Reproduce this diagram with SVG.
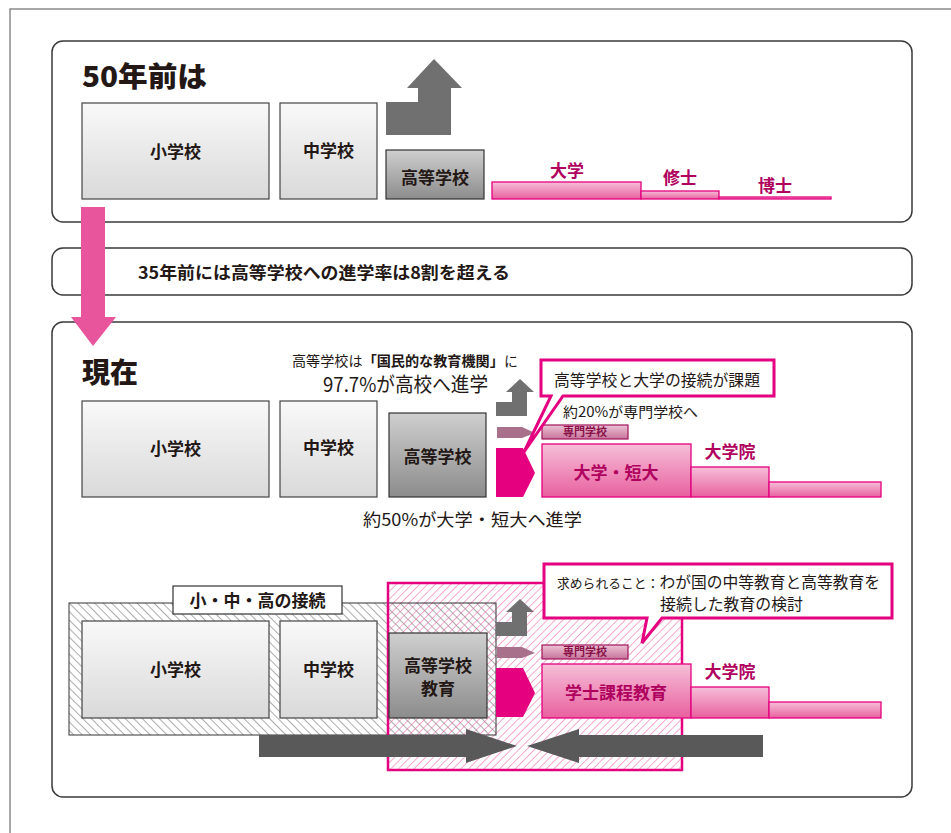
<svg xmlns="http://www.w3.org/2000/svg" width="951" height="833" viewBox="0 0 951 833">
<defs>
<linearGradient id="gLight" x1="0" y1="0" x2="0" y2="1"><stop offset="0" stop-color="#f9f9f9"/><stop offset="1" stop-color="#d9d9d9"/></linearGradient>
<linearGradient id="gDark" x1="0" y1="0" x2="0" y2="1"><stop offset="0" stop-color="#cfcfcf"/><stop offset="1" stop-color="#8c8c8c"/></linearGradient>
<linearGradient id="gPink" x1="0" y1="0" x2="0" y2="1"><stop offset="0" stop-color="#f6bfd8"/><stop offset="1" stop-color="#e8609f"/></linearGradient>
<linearGradient id="gSen" x1="0" y1="0" x2="0" y2="1"><stop offset="0" stop-color="#ecc2d5"/><stop offset="1" stop-color="#c7739a"/></linearGradient>
<pattern id="hGray" width="6" height="6" patternUnits="userSpaceOnUse" patternTransform="rotate(-45)"><line x1="0" y1="0" x2="0" y2="6" stroke="#666" stroke-width="1.1"/></pattern>
<pattern id="hPink" width="5.5" height="5.5" patternUnits="userSpaceOnUse" patternTransform="rotate(45)"><line x1="0" y1="0" x2="0" y2="5.5" stroke="#ec62a6" stroke-width="1.1"/></pattern>
<style>
text{font-family:"Noto Sans CJK JP","Noto Sans",sans-serif;fill:#231815}
.panel{fill:#fff;stroke:#3a3a3a;stroke-width:1.5}
.lbox{fill:url(#gLight);stroke:#444;stroke-width:1.2}
.dbox{fill:url(#gDark);stroke:#333;stroke-width:1.2}
.pbar{fill:url(#gPink);stroke:#e4007f;stroke-width:1.3}
.sen{fill:url(#gSen);stroke:#a0145a;stroke-width:1.2}
.lab{font-size:17px;font-weight:700;text-anchor:middle}
.plab{font-size:17px;font-weight:700;text-anchor:middle;fill:#b0005e}
.slab{font-size:11px;font-weight:700;text-anchor:middle;fill:#8a1048}
.title{font-size:28px;font-weight:900}
.upg{fill:#707070}
.mauve{fill:#a8708b}
.mag{fill:#e4007f}
.call{fill:#fff;stroke:#e4007f;stroke-width:3;stroke-linejoin:miter}
.big{fill:#595959}
</style>
</defs>
<rect width="951" height="833" fill="#fff"/>
<path d="M10,833 V9 H951" fill="none" stroke="#8a8a8a" stroke-width="1.5"/>

<g id="panel-top">
<rect class="panel" x="52" y="41" width="860" height="181" rx="11"/>
<text class="title" x="82" y="87" textLength="125" lengthAdjust="spacingAndGlyphs">50年前は</text>
</g>
<g id="top-sho"><rect class="lbox" x="82" y="103" width="187" height="96"/><text class="lab" x="175.5" y="158">小学校</text></g>
<g id="top-chu"><rect class="lbox" x="280" y="103" width="97" height="96"/><text class="lab" x="328.5" y="157">中学校</text></g>
<g id="top-koko"><rect class="dbox" x="386" y="150" width="98" height="49"/><text class="lab" x="435" y="184">高等学校</text></g>
<g id="top-daigaku"><rect class="pbar" x="492" y="182" width="149" height="17"/><text class="plab" x="567" y="177">大学</text></g>
<g id="top-shushi"><rect class="pbar" x="641" y="191" width="78" height="8"/><text class="plab" x="680" y="184">修士</text></g>
<g id="top-hakushi"><rect class="pbar" x="719" y="197" width="112" height="2"/><text class="plab" x="775" y="192">博士</text></g>

<g id="panel-mid">
<rect class="panel" x="52" y="248" width="860" height="47" rx="11"/>
<text x="138" y="279" font-size="17" font-weight="700" textLength="372" lengthAdjust="spacingAndGlyphs">35年前には高等学校への進学率は8割を超える</text>
</g>

<g id="panel-now">
<rect class="panel" x="52" y="322" width="860" height="475" rx="11"/>
<text class="title" x="82" y="383">現在</text>
<text x="292" y="366" font-size="14" textLength="226" lengthAdjust="spacingAndGlyphs">高等学校は<tspan font-weight="700">「国民的な教育機関」</tspan>に</text>
<text x="323" y="392" font-size="20" textLength="165" lengthAdjust="spacingAndGlyphs">97.7%が高校へ進学</text>
<text x="363" y="526" font-size="17" textLength="219" lengthAdjust="spacingAndGlyphs">約50%が大学・短大へ進学</text>
<text x="563" y="417" font-size="14" textLength="135" lengthAdjust="spacingAndGlyphs">約20%が専門学校へ</text>
</g>
<g id="now-sho"><rect class="lbox" x="82" y="401" width="187" height="96"/><text class="lab" x="175.5" y="455">小学校</text></g>
<g id="now-chu"><rect class="lbox" x="280" y="401" width="97" height="96"/><text class="lab" x="328.5" y="454">中学校</text></g>
<g id="now-koko"><rect class="dbox" x="389" y="413" width="97" height="84"/><text class="lab" x="437.5" y="463">高等学校</text></g>
<g id="now-senmon"><rect class="sen" x="542" y="425" width="86" height="14"/><text class="slab" x="585" y="436">専門学校</text></g>
<g id="now-daigaku"><rect class="pbar" x="542" y="444" width="149" height="53"/><text class="plab" x="616" y="479">大学・短大</text></g>
<g id="now-in"><rect class="pbar" x="691" y="467" width="78" height="30"/><rect class="pbar" x="769" y="482" width="112" height="15"/><text class="plab" x="730" y="458">大学院</text></g>

<g id="low-group">
<rect x="69" y="603" width="427" height="132" fill="url(#hGray)"/>
<rect x="388" y="583" width="294" height="187" fill="url(#hPink)"/>
<rect x="69" y="603" width="427" height="132" fill="none" stroke="#333" stroke-width="1"/>
<rect x="388" y="583" width="294" height="187" fill="none" stroke="#e4007f" stroke-width="2.5"/>
</g>
<g id="low-label"><rect x="173" y="586" width="169" height="28" fill="#fff" stroke="#333" stroke-width="1.2"/><text class="lab" x="257.5" y="607">小・中・高の接続</text></g>
<g id="low-sho"><rect class="lbox" x="82" y="621" width="187" height="97"/><text class="lab" x="175.5" y="676">小学校</text></g>
<g id="low-chu"><rect class="lbox" x="280" y="621" width="97" height="97"/><text class="lab" x="328.5" y="676">中学校</text></g>
<g id="low-koko"><rect class="dbox" x="389" y="633" width="98" height="85"/><text class="lab" x="438" y="672">高等学校</text><text class="lab" x="438" y="695">教育</text></g>
<g id="low-senmon"><rect class="sen" x="542" y="645" width="86" height="14"/><text class="slab" x="585" y="656">専門学校</text></g>
<g id="low-gakushi"><rect class="pbar" x="542" y="664" width="149" height="54"/><text class="plab" x="616" y="699">学士課程教育</text></g>
<g id="low-in"><rect class="pbar" x="691" y="687" width="78" height="31"/><rect class="pbar" x="769" y="702" width="112" height="16"/><text class="plab" x="730" y="678">大学院</text></g>

<g id="connectors">
<path class="upg" d="M386,135 V102 H418 V88 H407 L434,59 L462,88 H451 V135 Z"/>
<path class="upg" d="M496,416 V402 H512 V392 H506 L520,379 L534,392 H527 V416 Z"/>
<path class="mauve" d="M497,427 H522 L535,433 L522,438 H497 Z"/>
<path class="mag" d="M496,448 H523 L535,473 L523,497 H496 Z"/>
<path class="upg" d="M496,636 V622 H512 V612 H506 L520,599 L534,612 H527 V636 Z"/>
<path class="mauve" d="M497,647 H522 L535,653 L522,658 H497 Z"/>
<path class="mag" d="M496,668 H523 L535,693 L523,717 H496 Z"/>
<path class="big" d="M259,735 H466 V729 L517,746 L466,763 V757 H259 Z"/>
<path class="big" d="M763,735 H579 V729 L527,746 L579,763 V757 H763 Z"/>
<path fill="#e8559c" d="M81,207 H105 V317 H116 L93,346 L71,317 H81 Z"/>
</g>

<g id="callout-now">
<path class="call" d="M541,360 H774 V396 H563 L524,452 L551,396 H541 Z"/>
<text x="554" y="386" font-size="16" textLength="206" lengthAdjust="spacingAndGlyphs">高等学校と大学の接続が課題</text>
</g>
<g id="callout-low">
<path class="call" d="M544,564 H892 V618 H662 L642,643 L647,618 H544 Z"/>
<text x="557" y="588" font-size="16" textLength="323" lengthAdjust="spacingAndGlyphs"><tspan font-size="13">求められること：</tspan>わが国の中等教育と高等教育を</text>
<text x="660" y="610" font-size="16" textLength="143" lengthAdjust="spacingAndGlyphs">接続した教育の検討</text>
</g>
</svg>
